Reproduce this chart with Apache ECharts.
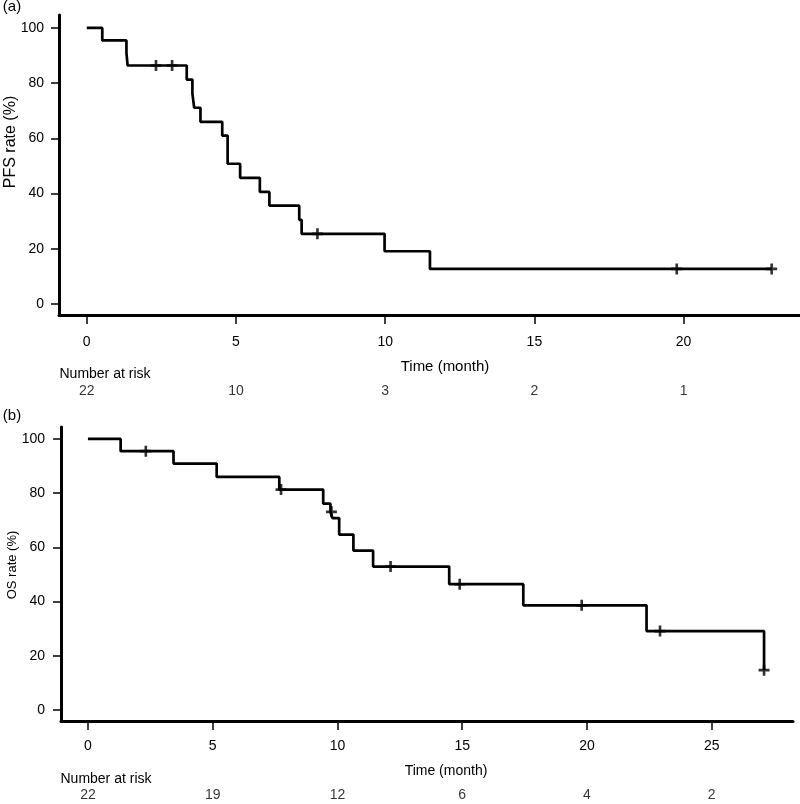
<!DOCTYPE html>
<html>
<head>
<meta charset="utf-8">
<script src="https://cdn.jsdelivr.net/npm/echarts@6/dist/echarts.min.js"></script>
<style>
  html, body { margin: 0; padding: 0; background: #fff; }
  #chart { width: 800px; height: 804px; }
</style>
</head>
<body>
<div id="chart"></div>
<script>
// (a) PFS: step points (time in months, survival %)
const pfsTime = [0, 0.52, 1.33, 1.37, 3.35, 3.54, 3.6, 3.81, 4.54, 4.72, 5.14, 5.8, 6.12, 7.12, 7.2, 9.98, 11.5, 22.95];
const pfsSurv = [100, 95.5, 90.9, 86.4, 81.3, 76.2, 71.1, 66.0, 61.0, 50.8, 45.7, 40.6, 35.6, 30.5, 25.4, 19.1, 12.7, 12.7];
const pfsCensorTime = [2.32, 2.86, 7.73, 19.77, 22.95];
const pfsCensorSurv = [86.4, 86.4, 25.4, 12.7, 12.7];
const pfsRiskTime = [0, 5, 10, 15, 20];
const pfsRisk = [22, 10, 3, 2, 1];

// (b) OS
const osTime = [0, 1.31, 3.43, 5.16, 7.67, 9.43, 9.72, 9.8, 10.07, 10.64, 11.43, 14.48, 17.45, 22.39, 27.1];
const osSurv = [100, 95.5, 90.9, 86.0, 81.3, 76.1, 73.1, 70.8, 64.7, 58.8, 52.9, 46.4, 38.6, 29.1, 14.7];
const osCensorTime = [2.32, 7.74, 9.76, 12.13, 14.9, 19.79, 22.93, 27.1];
const osCensorSurv = [95.5, 81.3, 73.1, 52.9, 46.4, 38.6, 29.1, 14.7];
const osRiskTime = [0, 5, 10, 15, 20, 25];
const osRisk = [22, 19, 12, 6, 4, 2];

const yTicks = [0, 20, 40, 60, 80, 100];
const xTicksA = [0, 5, 10, 15, 20];
const xTicksB = [0, 5, 10, 15, 20, 25];

const FONT = "'Liberation Sans', Arial, Helvetica, sans-serif";
// censor mark, a "+" like R's pch 3
const plus = 'path://M3.8,0H6.2V3.8H10V6.2H6.2V10H3.8V6.2H0V3.8H3.8Z';

const zip = (a, b) => a.map((v, i) => [v, b[i]]);

function xAxisFor(grid, min, max, ticks, margin) {
  return {
    gridIndex: grid, type: 'value', min: min, max: max,
    axisLine: { show: true, onZero: false, lineStyle: { color: '#000', width: 3 } },
    axisTick: { show: true, customValues: ticks, length: 9, lineStyle: { color: '#000', width: 1.5 } },
    axisLabel: { customValues: ticks, margin: margin, color: '#000', fontSize: 14, fontFamily: FONT },
    splitLine: { show: false }
  };
}
function yAxisFor(grid, min, max, margin) {
  return {
    gridIndex: grid, type: 'value', min: min, max: max,
    axisLine: { show: true, onZero: false, lineStyle: { color: '#000', width: 3 } },
    axisTick: { show: true, customValues: yTicks, length: 8, lineStyle: { color: '#000', width: 1.5 } },
    axisLabel: { customValues: yTicks, margin: margin, color: '#000', fontSize: 14, fontFamily: FONT },
    splitLine: { show: false }
  };
}
function hiddenX(grid, min, max) {
  return { gridIndex: grid, type: 'value', min: min, max: max, show: false };
}
function hiddenY(grid) {
  return { gridIndex: grid, type: 'value', min: 0, max: 1, show: false };
}
function kmLine(ax, t, s) {
  return {
    type: 'line', xAxisIndex: ax, yAxisIndex: ax, step: 'end', symbol: 'none',
    lineStyle: { color: '#000', width: 2.7 }, data: zip(t, s)
  };
}
function censor(ax, t, s) {
  return {
    type: 'scatter', xAxisIndex: ax, yAxisIndex: ax, symbol: plus, symbolSize: 11,
    itemStyle: { color: '#000' }, data: zip(t, s)
  };
}
function riskRow(ax, t, n) {
  return {
    type: 'scatter', xAxisIndex: ax, yAxisIndex: ax, symbolSize: 1,
    itemStyle: { color: 'rgba(0,0,0,0)' },
    label: { show: true, position: 'inside', color: '#000', fontSize: 14, fontFamily: FONT,
             formatter: p => String(p.value[2]) },
    data: t.map((v, i) => [v, 0.5, n[i]])
  };
}
function txt(x, y, text, size, extra) {
  return Object.assign({
    type: 'text', x: x, y: y,
    style: { text: text, fill: '#000', fontSize: size, fontFamily: FONT, align: 'center', verticalAlign: 'middle' }
  }, extra || {});
}

const chart = echarts.init(document.getElementById('chart'));
chart.setOption({
  animation: false,
  backgroundColor: '#fff',
  grid: [
    { left: 59, top: 15, width: 741, height: 300 },
    { left: 61, top: 427, width: 732, height: 294 },
    { left: 59, top: 385, width: 741, height: 12 },
    { left: 61, top: 789, width: 732, height: 12 }
  ],
  xAxis: [
    xAxisFor(0, -0.93, 23.9, xTicksA, 20),
    xAxisFor(1, -1.08, 28.26, xTicksB, 18),
    hiddenX(2, -0.93, 23.9),
    hiddenX(3, -1.08, 28.26)
  ],
  yAxis: [
    yAxisFor(0, -4, 104.7, 15),
    yAxisFor(1, -4.06, 104.4, 16),
    hiddenY(2),
    hiddenY(3)
  ],
  series: [
    kmLine(0, pfsTime, pfsSurv),
    censor(0, pfsCensorTime, pfsCensorSurv),
    kmLine(1, osTime, osSurv),
    censor(1, osCensorTime, osCensorSurv),
    riskRow(2, pfsRiskTime, pfsRisk),
    riskRow(3, osRiskTime, osRisk)
  ],
  graphic: [
    txt(12, 7, '(a)', 15),
    txt(11, 142, 'PFS rate (%)', 16, { rotation: Math.PI / 2 }),
    txt(445, 367, 'Time (month)', 15),
    txt(105, 374, 'Number at risk', 14),
    txt(12, 416, '(b)', 15),
    txt(12, 565, 'OS rate (%)', 13, { rotation: Math.PI / 2 }),
    txt(446, 771, 'Time (month)', 14),
    txt(106, 779, 'Number at risk', 14)
  ]
});
</script>
</body>
</html>
